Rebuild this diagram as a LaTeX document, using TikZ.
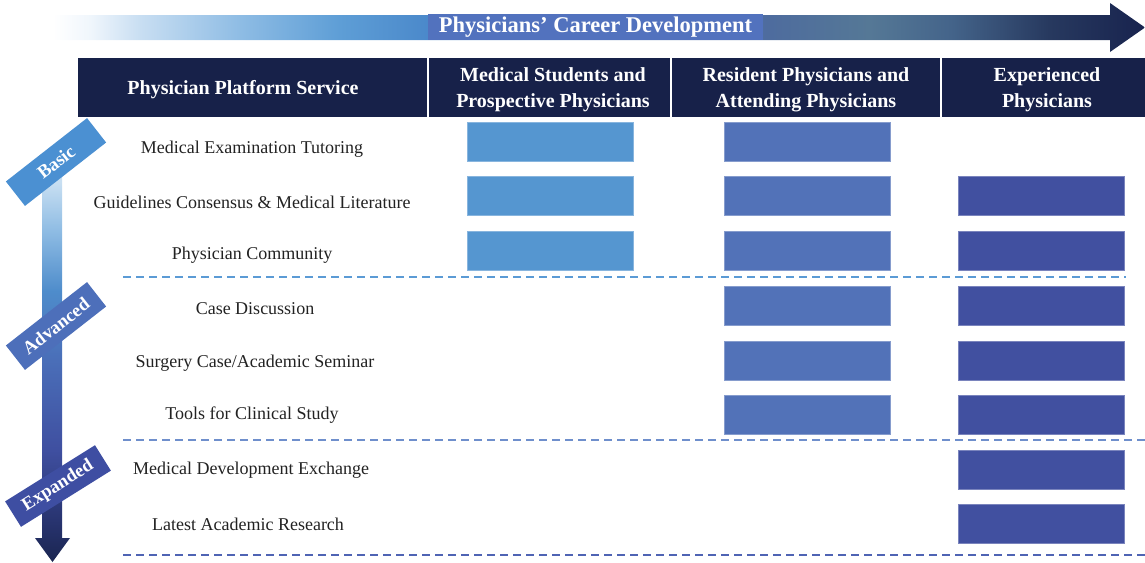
\documentclass[tikz,border=0pt]{standalone}
\usepackage{fontspec}
\setmainfont{Liberation Serif}
\usetikzlibrary{positioning}
\definecolor{navy}{HTML}{172149}
\definecolor{titlebox}{HTML}{5272BE}
\definecolor{colA}{HTML}{5596D0}
\definecolor{colB}{HTML}{5272B8}
\definecolor{colC}{HTML}{4150A0}
\definecolor{lvlA}{HTML}{4B90D2}
\definecolor{lvlB}{HTML}{4D6FBA}
\definecolor{lvlC}{HTML}{3E4EA2}
\definecolor{dashA}{HTML}{5B9BD5}
\definecolor{dashB}{HTML}{6F8FCC}
\definecolor{dashC}{HTML}{4F64B4}
\definecolor{txt}{HTML}{222222}
\definecolor{hA}{HTML}{F0F6FC}
\definecolor{hB}{HTML}{C8DEF2}
\definecolor{hC}{HTML}{8EBCE4}
\definecolor{hD}{HTML}{5E9ED6}
\definecolor{hE}{HTML}{4A88CA}
\definecolor{hF}{HTML}{4E6C9E}
\definecolor{hG}{HTML}{557896}
\definecolor{hH}{HTML}{44648A}
\definecolor{hI}{HTML}{27395F}
\definecolor{hJ}{HTML}{18234E}
\definecolor{vA}{HTML}{1A2550}
\definecolor{vB}{HTML}{283470}
\definecolor{vC}{HTML}{3F4FA0}
\definecolor{vD}{HTML}{4A6EB8}
\definecolor{vE}{HTML}{4E8CCB}
\definecolor{vF}{HTML}{8DBBE3}
\definecolor{vG}{HTML}{C8DFF2}
\pgfdeclarehorizontalshading{topgrad}{100bp}{color(0bp)=(white); color(25bp)=(white); color(26.7bp)=(hA); color(29bp)=(hB); color(33.6bp)=(hC); color(38.1bp)=(hD); color(42.3bp)=(hE); color(57.8bp)=(hF); color(62.4bp)=(hG); color(66.1bp)=(hH); color(70.6bp)=(hI); color(75bp)=(hJ); color(100bp)=(hJ)}
\pgfdeclareverticalshading{leftgrad}{100bp}{color(0bp)=(vA); color(25bp)=(vA); color(30.4bp)=(vB); color(39.3bp)=(vC); color(50.8bp)=(vD); color(59.7bp)=(vE); color(67.3bp)=(vF); color(73.7bp)=(vG); color(100bp)=(vG)}
\tikzset{
  hdr/.style={text=white, font=\fontsize{20}{26}\selectfont\bfseries, align=center, inner sep=0pt},
  rowlabel/.style={text=txt, font=\fontsize{18}{22}\selectfont, inner sep=0pt},
  block/.style={minimum width=166pt, minimum height=39pt, inner sep=0pt, line width=0.6pt},
  blkA/.style={block, fill=colA, draw=colA!70!white},
  blkB/.style={block, fill=colB, draw=colB!70!white},
  blkC/.style={block, fill=colC, draw=colC!70!white},
  lvl/.style={minimum width=103pt, minimum height=31pt, inner sep=0pt, text=white, font=\fontsize{18.5}{20}\selectfont\bfseries},
  sep/.style={dashed, dash pattern=on 8pt off 5pt, line width=1.8pt},
  divider/.style={white, line width=1.4pt}
}
\begin{document}
\begin{tikzpicture}[x=1pt, y=-1pt]
\useasboundingbox (0,0) rectangle (1145,562);
% top arrow
\shade[shading=topgrad] (53,15) -- (1110,15) -- (1110,3) -- (1145,27.5) -- (1110,52) -- (1110,40) -- (53,40) -- cycle;
\node[fill=titlebox, minimum width=335pt, minimum height=26pt, inner sep=0pt, text=white, font=\fontsize{22.5}{26}\selectfont\bfseries] (title) at (595.5,27) {Physicians’ Career Development};
% header
\fill[navy] (78,58) rectangle (1145,117);
\coordinate (d1t) at (428,58); \coordinate (d1b) at (428,117);
\coordinate (d2t) at (671,58); \coordinate (d2b) at (671,117);
\coordinate (d3t) at (941,58); \coordinate (d3b) at (941,117);
\draw[divider] (d1t) -- (d1b);
\draw[divider] (d2t) -- (d2b);
\draw[divider] (d3t) -- (d3b);
\node[hdr] (h0) at (243,90) {Physician Platform Service};
\node[hdr] (h1) at (553,90) {Medical Students and\\Prospective Physicians};
\node[hdr] (h2) at (806,90) {Resident Physicians and\\Attending Physicians};
\node[hdr] (h3) at (1047,90) {Experienced\\Physicians};
% left arrow
\shade[shading=leftgrad] (42,172) -- (62,172) -- (62,538) -- (70,538) -- (52.5,562) -- (35,538) -- (42,538) -- cycle;
\node[lvl, fill=lvlA, rotate=38] (basic) at (56,162) {Basic};
\node[lvl, fill=lvlB, rotate=38] (advanced) at (56,326) {Advanced};
\node[lvl, fill=lvlC, rotate=32, minimum height=30pt, minimum width=106pt] (expanded) at (58,486) {Expanded};
% row labels
\node[rowlabel] (r1) at (252,149) {Medical Examination Tutoring};
\node[rowlabel] (r2) at (252,202) {Guidelines Consensus \& Medical Literature};
\node[rowlabel] (r3) at (252,255) {Physician Community};
\node[rowlabel] (r4) at (255,309) {Case Discussion};
\node[rowlabel] (r5) at (255,363) {Surgery Case/Academic Seminar};
\node[rowlabel] (r6) at (252,415) {Tools for Clinical Study};
\node[rowlabel] (r7) at (251,470) {Medical Development Exchange};
\node[rowlabel] (r8) at (248,524) {Latest Academic Research};
% blocks
\node[blkA] (a1) at (550,141.5) {};
\node[blkA] (a2) at (550,196) {};
\node[blkA] (a3) at (550,250.5) {};
\node[blkB] (b1) at (807,141.5) {};
\node[blkB] (b2) at (807,196) {};
\node[blkB] (b3) at (807,250.5) {};
\node[blkB] (b4) at (807,305.5) {};
\node[blkB] (b5) at (807,360.5) {};
\node[blkB] (b6) at (807,415) {};
\node[blkC] (c2) at (1041.5,196) {};
\node[blkC] (c3) at (1041.5,250.5) {};
\node[blkC] (c4) at (1041.5,305.5) {};
\node[blkC] (c5) at (1041.5,360.5) {};
\node[blkC] (c6) at (1041.5,415) {};
\node[blkC] (c7) at (1041.5,469.5) {};
\node[blkC] (c8) at (1041.5,523.5) {};
% separators
\coordinate (s1l) at (123,277); \coordinate (s1r) at (1126,277);
\coordinate (s2l) at (123,440); \coordinate (s2r) at (1145,440);
\coordinate (s3l) at (123,555); \coordinate (s3r) at (1145,555);
\draw[sep, dashA] (s1l) -- (s1r);
\draw[sep, dashB] (s2l) -- (s2r);
\draw[sep, dashC] (s3l) -- (s3r);
\end{tikzpicture}
\end{document}
